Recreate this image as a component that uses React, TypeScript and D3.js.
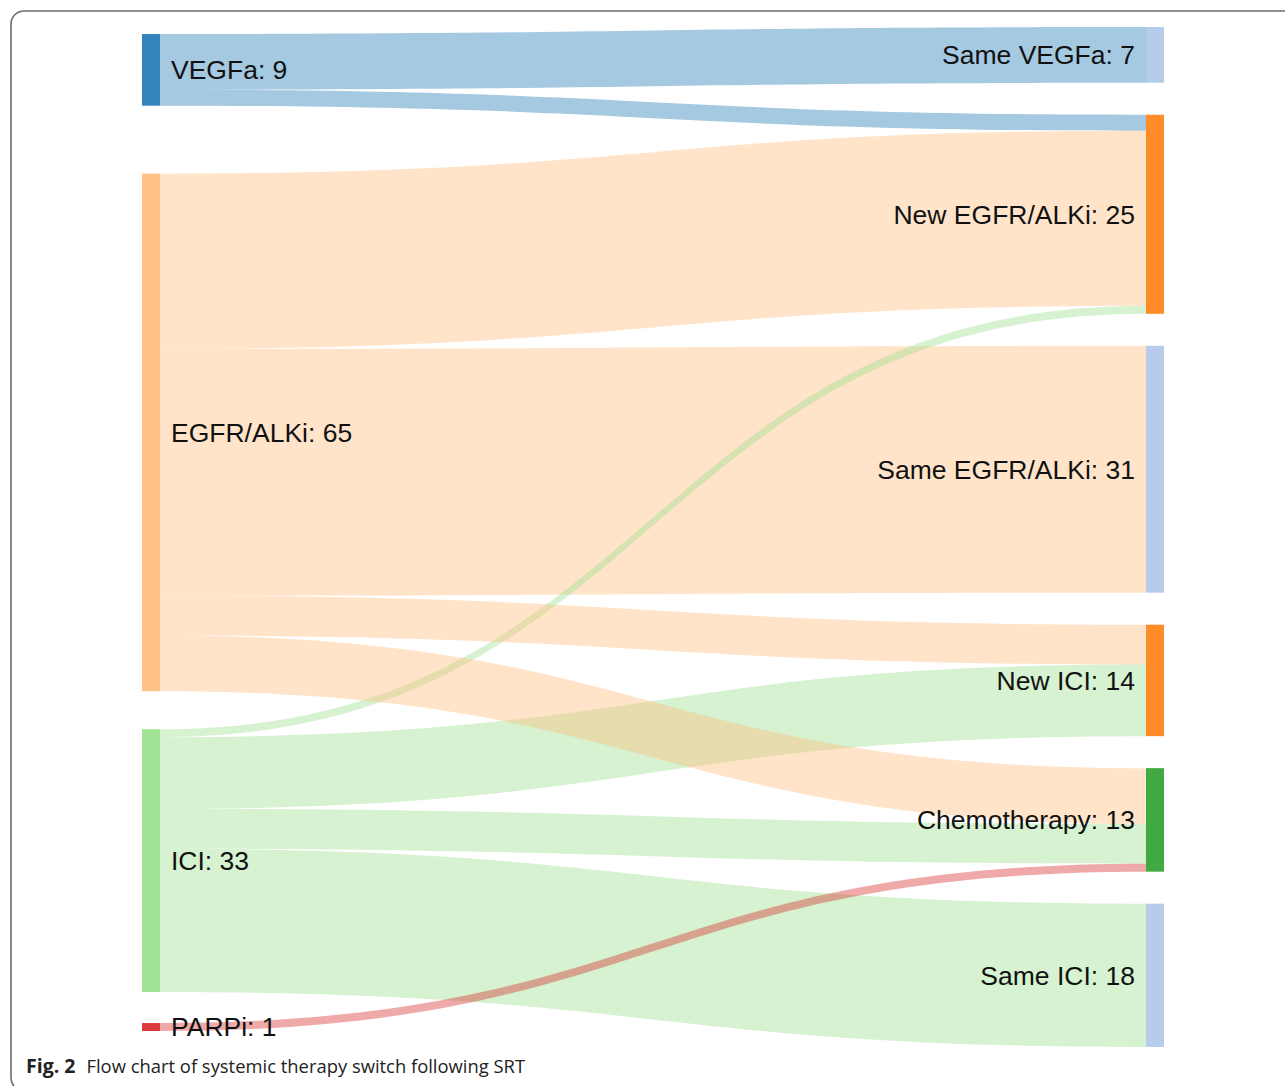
import React from 'react'
import * as d3 from 'd3'

// therapy before SRT (left) and after SRT (right)
const sourceNodes = ['VEGFa', 'EGFR/ALKi', 'ICI', 'PARPi']
const targetNodes = ['Same VEGFa', 'New EGFR/ALKi', 'Same EGFR/ALKi', 'New ICI', 'Chemotherapy', 'Same ICI']

// patient flows [from, to, n], listed in drawing order
const flows: [string, string, number][] = [
  ['VEGFa', 'Same VEGFa', 7],
  ['VEGFa', 'New EGFR/ALKi', 2],
  ['EGFR/ALKi', 'New EGFR/ALKi', 22],
  ['EGFR/ALKi', 'Same EGFR/ALKi', 31],
  ['ICI', 'New EGFR/ALKi', 1],
  ['ICI', 'New ICI', 9],
  ['ICI', 'Chemotherapy', 5],
  ['ICI', 'Same ICI', 18],
  ['EGFR/ALKi', 'New ICI', 5],
  ['EGFR/ALKi', 'Chemotherapy', 7],
  ['PARPi', 'Chemotherapy', 1],
]

const nodeColors: Record<string, string> = {
  VEGFa: '#1f77b4',
  'EGFR/ALKi': '#ffbb78',
  ICI: '#98df8a',
  PARPi: '#d62728',
  'Same VEGFa': '#aec7e8',
  'New EGFR/ALKi': '#ff7f0e',
  'Same EGFR/ALKi': '#aec7e8',
  'New ICI': '#ff7f0e',
  Chemotherapy: '#2ca02c',
  'Same ICI': '#aec7e8',
}

const W = 1285
const H = 1086
const nodeW = 18
const leftX = 142
const rightX = 1146
const colTop = 27
const colBottom = 1047
const nodePad = 32
// space above each left node (the left column is not evenly packed)
const leftGaps = [7, 68, 38, 31]

type NodeBox = { name: string; value: number; x0: number; x1: number; y0: number; y1: number; side: 'L' | 'R' }

const App: React.FC = () => {
  const total = d3.sum(flows, (f) => f[2])
  const valueOf = (name: string) =>
    d3.sum(flows.filter((f) => f[0] === name || f[1] === name), (f) => f[2])

  // value -> pixel height, sized so the right column fills colTop..colBottom
  const h = d3
    .scaleLinear()
    .domain([0, total])
    .range([0, colBottom - colTop - nodePad * (targetNodes.length - 1)])

  const nodes = new Map<string, NodeBox>()
  let y = colTop
  sourceNodes.forEach((name, i) => {
    y += leftGaps[i]
    const v = valueOf(name)
    nodes.set(name, { name, value: v, x0: leftX, x1: leftX + nodeW, y0: y, y1: y + h(v), side: 'L' })
    y += h(v)
  })
  y = colTop
  targetNodes.forEach((name) => {
    const v = valueOf(name)
    nodes.set(name, { name, value: v, x0: rightX, x1: rightX + nodeW, y0: y, y1: y + h(v), side: 'R' })
    y += h(v) + nodePad
  })

  // stack links at both ends, ordered by the position of the other end
  const links = flows.map(([s, t, v]) => ({ s: nodes.get(s)!, t: nodes.get(t)!, v, sy: 0, ty: 0 }))
  nodes.forEach((n) => {
    const out = links.filter((l) => l.s === n).sort((a, b) => a.t.y0 - b.t.y0)
    let oy = n.y0
    out.forEach((l) => {
      l.sy = oy
      oy += h(l.v)
    })
    const inc = links.filter((l) => l.t === n).sort((a, b) => a.s.y0 - b.s.y0)
    let iy = n.y0
    inc.forEach((l) => {
      l.ty = iy
      iy += h(l.v)
    })
  })

  const linkPath = (l: (typeof links)[number]) => {
    const x0 = l.s.x1
    const x1 = l.t.x0
    const xm = d3.interpolateNumber(x0, x1)(0.5)
    const w = h(l.v)
    const p = d3.path()
    p.moveTo(x0, l.sy)
    p.bezierCurveTo(xm, l.sy, xm, l.ty, x1, l.ty)
    p.lineTo(x1, l.ty + w)
    p.bezierCurveTo(xm, l.ty + w, xm, l.sy + w, x0, l.sy + w)
    p.closePath()
    return p.toString()
  }

  const nodeList = Array.from(nodes.values())

  return (
    <svg width={W} height={H} style={{ position: 'absolute', left: 0, top: 0 }}>
      <rect width={W} height={H} fill="#fff" />
      <rect x={11} y={11} width={W + 40} height={H - 6} rx={13} fill="none" stroke="#6e6e6e" strokeWidth={1.6} />

      <g>
        {links.map((l, i) => (
          <path key={i} d={linkPath(l)} fill={nodeColors[l.s.name]} fillOpacity={0.4} />
        ))}
      </g>

      <g>
        {nodeList.map((n) => (
          <rect
            key={n.name}
            x={n.x0}
            y={n.y0}
            width={n.x1 - n.x0}
            height={n.y1 - n.y0}
            fill={nodeColors[n.name]}
            fillOpacity={0.9}
          />
        ))}
      </g>

      <g fontFamily="'Liberation Sans', Arial, sans-serif" fontSize={26.5} fill="#111">
        {nodeList.map((n) => (
          <text
            key={n.name}
            x={n.side === 'L' ? n.x1 + 11 : n.x0 - 11}
            y={(n.y0 + n.y1) / 2}
            dy="0.35em"
            textAnchor={n.side === 'L' ? 'start' : 'end'}
          >
            {`${n.name}: ${n.value}`}
          </text>
        ))}
      </g>

      <text x={26} y={1073} fontFamily="'Open Sans', 'Noto Sans', sans-serif" fill="#222">
        <tspan fontWeight="bold" fontSize={19.5}>Fig. 2</tspan>
        <tspan dx={11} fontSize={18.4}>Flow chart of systemic therapy switch following SRT</tspan>
      </text>
    </svg>
  )
}

export default App
